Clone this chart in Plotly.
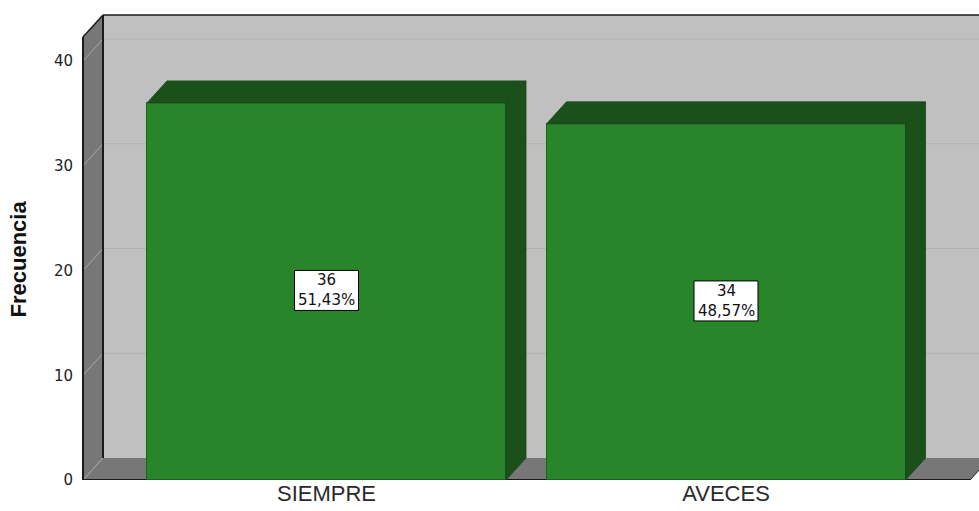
import plotly.graph_objects as go

# ---- data ----
categories = ["SIEMPRE", "AVECES"]
counts = [36, 34]
percents = ["51,43%", "48,57%"]
y_ticks = [0, 10, 20, 30, 40]

# ---- geometry / style constants ----
W, H = 979, 511
ml, mr, mt, mb = 60, 0, 0, 31
plot_w = W - ml - mr
plot_h = H - mt - mb
px_per_cat = 399.5        # pixels between category centres
center0_px = 326.5        # pixel position of first category centre
px_per_unit = 10.475      # pixels per count unit
front_left_px = 83
front_right_px = 970

x0 = -(center0_px - ml) / px_per_cat
x1 = x0 + plot_w / px_per_cat
y1 = plot_h / px_per_unit

dx = 20 / px_per_cat      # depth offset (x)
dy = 22 / px_per_unit     # depth offset (y)
bar_w = 359 / px_per_cat
wall_top = 42.3
xl = -(center0_px - front_left_px) / px_per_cat
xr = (front_right_px - center0_px) / px_per_cat
xfar = x1 + 0.2

GREEN = "#298529"
DARK_GREEN = "#1b501b"
WALL = "#c0c0c0"
SIDE = "#777777"

xs = list(range(len(categories)))

fig = go.Figure()

# front faces
fig.add_trace(go.Bar(
    x=xs, y=counts, width=bar_w,
    marker=dict(color=GREEN, line=dict(color="#1f5f1f", width=1)),
    hoverinfo="skip", showlegend=False,
))

# top faces and side faces
tx, ty, sx, sy = [], [], [], []
for xc, v in zip(xs, counts):
    a, b = xc - bar_w / 2, xc + bar_w / 2
    tx += [a, b, b + dx, a + dx, a, None]
    ty += [v, v, v + dy, v + dy, v, None]
    sx += [b, b + dx, b + dx, b, b, None]
    sy += [0, dy, v + dy, v, 0, None]
for px_, py_ in ((tx, ty), (sx, sy)):
    fig.add_trace(go.Scatter(
        x=px_, y=py_, mode="lines", fill="toself", fillcolor=DARK_GREEN,
        line=dict(color="#174517", width=0.8), hoverinfo="skip", showlegend=False,
    ))

shapes = []
# back wall
shapes.append(dict(type="rect", xref="x", yref="y", x0=xl + dx, x1=xfar, y0=dy, y1=wall_top + dy,
                   fillcolor=WALL, line=dict(width=0), layer="below"))
# side wall
shapes.append(dict(type="path", xref="x", yref="y",
                   path=f"M{xl},0 L{xl+dx},{dy} L{xl+dx},{wall_top+dy} L{xl},{wall_top} Z",
                   fillcolor=SIDE, line=dict(width=0), layer="below"))
# floor
shapes.append(dict(type="path", xref="x", yref="y",
                   path=f"M{xl},0 L{xr},0 L{xr+dx},{dy} L{xl+dx},{dy} Z",
                   fillcolor=SIDE, line=dict(width=0), layer="below"))
# grid lines
for t in y_ticks:
    if t > 0:
        shapes.append(dict(type="line", xref="x", yref="y", x0=xl + dx, x1=xfar, y0=t + dy, y1=t + dy,
                           line=dict(color="#b0b0b0", width=1.2), layer="below"))
    shapes.append(dict(type="line", xref="x", yref="y", x0=xl, x1=xl + dx, y0=t, y1=t + dy,
                       line=dict(color="#a8a8a8", width=1), layer="below"))
# edges
edge = "#1a1a1a"
shapes += [
    dict(type="line", xref="x", yref="y", x0=xl + dx, x1=xl + dx, y0=dy, y1=wall_top + dy,
         line=dict(color=edge, width=2), layer="below"),
    dict(type="line", xref="x", yref="y", x0=xl + dx, x1=xfar, y0=wall_top + dy, y1=wall_top + dy,
         line=dict(color=edge, width=1.5), layer="below"),
    dict(type="line", xref="x", yref="y", x0=xl, x1=xl + dx, y0=wall_top, y1=wall_top + dy,
         line=dict(color=edge, width=1.5), layer="below"),
    dict(type="line", xref="x", yref="y", x0=xl, x1=xl, y0=0, y1=wall_top,
         line=dict(color=edge, width=2), layer="below"),
    dict(type="line", xref="x", yref="y", x0=xl, x1=xr, y0=0, y1=0,
         line=dict(color=edge, width=2), layer="below"),
    dict(type="line", xref="x", yref="y", x0=xr, x1=xr + dx, y0=0, y1=dy,
         line=dict(color=edge, width=1), layer="below"),
]

# value label boxes (fixed pixel size, anchored at bar mid-height)
annotations = []
for xc, v, p in zip(xs, counts, percents):
    shapes.append(dict(type="rect", xref="x", yref="y", xsizemode="pixel", ysizemode="pixel",
                       xanchor=xc, yanchor=v / 2, x0=-32, x1=32, y0=-19, y1=21,
                       fillcolor="white", line=dict(color="black", width=1), layer="above"))
    annotations.append(dict(
        x=xc, y=v / 2, xref="x", yref="y", text=f"{v}<br>{p}", showarrow=False, yshift=1,
        font=dict(family="DejaVu Sans", size=15, color="#111111"),
        xanchor="center", yanchor="middle", borderpad=0,
    ))
annotations.append(dict(
    x=(18 - ml) / plot_w, y=(plot_h - 259.5) / plot_h, xref="paper", yref="paper",
    text="<b>Frecuencia</b>", textangle=-90, showarrow=False,
    font=dict(family="Liberation Sans, Arial", size=22, color="#111111"),
    xanchor="center", yanchor="middle",
))

fig.update_layout(
    width=W, height=H,
    margin=dict(l=ml, r=mr, t=mt, b=mb, pad=0, autoexpand=False),
    paper_bgcolor="white", plot_bgcolor="white",
    shapes=shapes, annotations=annotations,
    bargap=0,
    xaxis=dict(range=[x0, x1], tickvals=xs, ticktext=categories, showgrid=False,
               zeroline=False, showline=False, ticks="", ticklen=0, automargin=False,
               ticklabelstandoff=-2,
               tickfont=dict(family="Liberation Sans, Arial", size=22, color="#2a2a2a")),
    yaxis=dict(range=[0, y1], tickvals=y_ticks, showgrid=False, zeroline=False, automargin=False,
               showline=False, anchor="free", position=(front_left_px - ml) / plot_w,
               ticks="outside", ticklen=7, tickcolor="rgba(0,0,0,0)",
               tickfont=dict(family="DejaVu Sans", size=15, color="#222222")),
)

fig.write_html("out.html")
